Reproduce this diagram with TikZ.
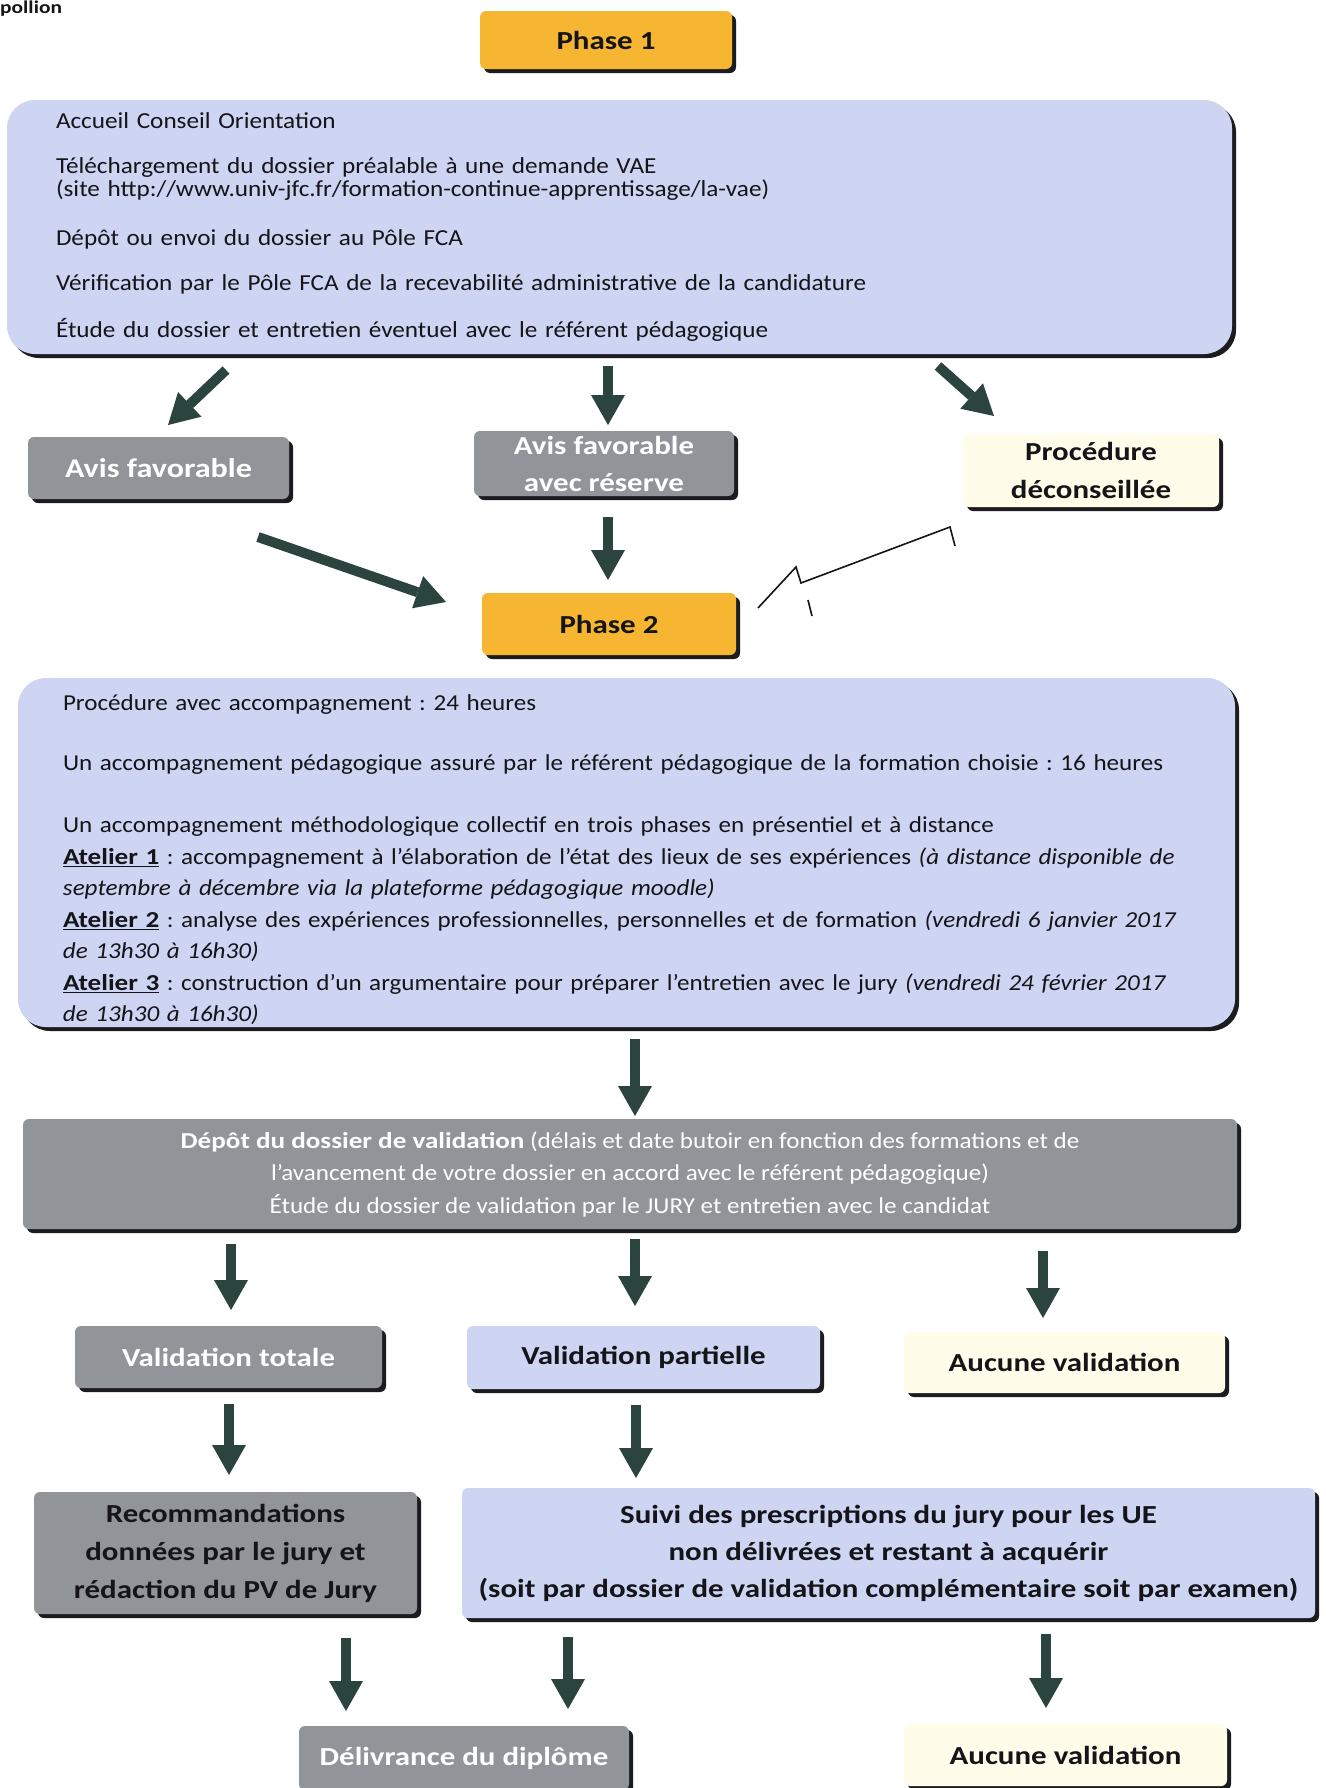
\documentclass[tikz,border=0pt]{standalone}
\usepackage{fontspec}
\setmainfont{Carlito}[
  UprightFeatures={FakeStretch=1.1},
  ItalicFeatures={FakeStretch=1.1},
  BoldFeatures={FakeStretch=1.19},
  BoldItalicFeatures={FakeStretch=1.19}]
\frenchspacing
\usetikzlibrary{shadows,arrows.meta}
\definecolor{boxblue}{RGB}{205,213,242}
\definecolor{boxgray}{RGB}{145,148,153}
\definecolor{boxorange}{RGB}{246,182,50}
\definecolor{boxcream}{RGB}{255,253,234}
\definecolor{arrowcol}{RGB}{44,68,62}
\definecolor{shadowcol}{RGB}{28,28,32}
\definecolor{txtdark}{RGB}{20,20,25}
\tikzset{
  base/.style={rounded corners=6pt, inner sep=0pt, align=center, text=txtdark,
    drop shadow={shadow xshift=4pt, shadow yshift=-4pt, fill=shadowcol, opacity=1}},
  orangebox/.style={base, fill=boxorange, font=\bfseries\fontsize{26}{30}\selectfont},
  graybox/.style={base, fill=boxgray, text=white, font=\bfseries\fontsize{26}{37}\selectfont},
  graydark/.style={base, fill=boxgray, font=\bfseries\fontsize{26}{38}\selectfont},
  bluebox/.style={base, fill=boxblue, font=\bfseries\fontsize{26}{37}\selectfont},
  creambox/.style={base, fill=boxcream, font=\bfseries\fontsize{26}{38}\selectfont},
  bigblue/.style={base, fill=boxblue, rounded corners=28pt, align=left},
  bigarrow/.style={draw=arrowcol, line width=10pt,
    -{Triangle[width=34pt,length=30pt,line width=0pt]}},
  zigzag/.style={draw=txtdark, line width=1.6pt, line join=miter}
}
\begin{document}
\begin{tikzpicture}[x=1pt,y=-1pt]
\useasboundingbox (0,0) rectangle (1325,1788);
\fill[white] (0,0) rectangle (1325,1788);

\node[anchor=north west, inner sep=0pt, text=txtdark, font=\bfseries\fontsize{18}{20}\selectfont] (corner) at (0,1) {pollion};

% Phase 1
\node[orangebox, minimum width=252pt, minimum height=58pt] (ph1) at (606,40) {Phase 1};

% Box 1
\node[bigblue, minimum height=254pt, text width=1127pt, inner xsep=49pt,
      font=\fontsize{22.9}{23}\selectfont] (b1) at (619.5,227) {%
Accueil Conseil Orientation\\[22pt]
Téléchargement du dossier préalable à une demande VAE\\
(site http://www.univ-jfc.fr/formation-continue-apprentissage/la-vae)\\[26pt]
Dépôt ou envoi du dossier au Pôle FCA\\[22pt]
Vérification par le Pôle FCA de la recevabilité administrative de la candidature\\[24pt]
Étude du dossier et entretien éventuel avec le référent pédagogique};

% Row 1 outcomes
\node[graybox, minimum width=261pt, minimum height=62pt, font=\bfseries\fontsize{27}{37}\selectfont] (af) at (158.5,468) {Avis favorable};
\node[graybox, minimum width=260pt, minimum height=65pt] (afr) at (604,463.5) {Avis favorable\\avec réserve};
\node[creambox, minimum width=256pt, minimum height=73pt] (pd) at (1091,470.5) {Procédure\\déconseillée};

% Phase 2
\node[orangebox, minimum width=254pt, minimum height=62pt] (ph2) at (609,624) {Phase 2};

% Box 2
\node[bigblue, minimum height=349pt, text width=1127pt, inner xsep=45pt,
      font=\fontsize{22.8}{31.5}\selectfont] (b2) at (626.5,852.5) {%
\rule{0pt}{31pt}Procédure avec accompagnement : 24 heures\\[28pt]
Un accompagnement pédagogique assuré par le référent pédagogique de la formation choisie : 16 heures\\[31pt]
Un accompagnement méthodologique collectif en trois phases en présentiel et à distance\\
\textbf{\underline{Atelier 1}} : accompagnement à l’élaboration de l’état des lieux de ses expériences \textit{(à distance disponible de}\\
\textit{septembre à décembre via la plateforme pédagogique moodle)}\\
\textbf{\underline{Atelier 2}} : analyse des expériences professionnelles, personnelles et de formation \textit{(vendredi 6 janvier 2017}\\
\textit{de 13h30 à 16h30)}\\
\textbf{\underline{Atelier 3}} : construction d’un argumentaire pour préparer l’entretien avec le jury \textit{(vendredi 24 février 2017}\\
\textit{de 13h30 à 16h30)}};

% Depot
\node[base, fill=boxgray, text=white, minimum width=1214pt, minimum height=110pt,
      font=\fontsize{22.8}{32.5}\selectfont] (dep) at (630,1174) {%
\textbf{Dépôt du dossier de validation} (délais et date butoir en fonction des formations et de\\
l’avancement de votre dossier en accord avec le référent pédagogique)\\
Étude du dossier de validation par le JURY et entretien avec le candidat};

% Row 3
\node[graybox, minimum width=307pt, minimum height=62pt] (vt) at (228.5,1357) {Validation totale};
\node[bluebox, minimum width=353pt, minimum height=63pt] (vp) at (643.5,1357.5) {Validation partielle};
\node[creambox, minimum width=321pt, minimum height=61pt] (av1) at (1064.5,1362.5) {Aucune validation};

% Row 4
\node[graydark, minimum width=383pt, minimum height=122pt] (rec) at (225.5,1553) {Recommandations\\données par le jury et\\rédaction du PV de Jury};
\node[bluebox, minimum width=853pt, minimum height=130pt] (suivi) at (888.5,1553) {Suivi des prescriptions du jury pour les UE\\non délivrées et restant à acquérir\\(soit par dossier de validation complémentaire soit par examen)};

% Row 5
\node[graybox, minimum width=330pt, minimum height=64pt] (deliv) at (464,1758) {Délivrance du diplôme};
\node[creambox, minimum width=323pt, minimum height=62pt] (av2) at (1065.5,1755) {Aucune validation};

% Arrow coordinates
\coordinate (a1s) at (226,370); \coordinate (a1e) at (168,425);
\coordinate (a2s) at (608,366); \coordinate (a2e) at (608,425);
\coordinate (a3s) at (938,366); \coordinate (a3e) at (994,416);
\coordinate (a4s) at (258,537); \coordinate (a4e) at (446,602);
\coordinate (a5s) at (608,517); \coordinate (a5e) at (608,580);
\coordinate (a6s) at (635,1039); \coordinate (a6e) at (635,1116);
\coordinate (a7s) at (231,1244); \coordinate (a7e) at (231,1310);
\coordinate (a8s) at (635,1239); \coordinate (a8e) at (635,1306);
\coordinate (a9s) at (1043,1251); \coordinate (a9e) at (1043,1318);
\coordinate (a10s) at (229,1404); \coordinate (a10e) at (229,1475);
\coordinate (a11s) at (636,1405); \coordinate (a11e) at (636,1478);
\coordinate (a12s) at (346,1638); \coordinate (a12e) at (346,1711);
\coordinate (a13s) at (568,1637); \coordinate (a13e) at (568,1709);
\coordinate (a14s) at (1046,1634); \coordinate (a14e) at (1046,1708);

\foreach \i in {1,...,14} \draw[bigarrow] (a\i s) -- (a\i e);

% broken line
\coordinate (z1) at (758,608); \coordinate (z2) at (796,567);
\coordinate (z3) at (801,583); \coordinate (z4) at (950,527);
\coordinate (z5) at (955,546);
\coordinate (t1) at (808,600); \coordinate (t2) at (812,616);
\draw[zigzag] (z1) -- (z2) -- (z3) -- (z4) -- (z5);
\draw[zigzag] (t1) -- (t2);
\end{tikzpicture}
\end{document}
